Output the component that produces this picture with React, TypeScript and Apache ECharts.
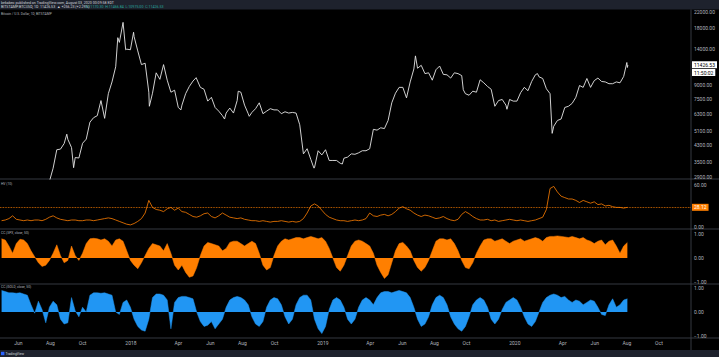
import React, { useEffect, useRef } from 'react';
import * as echarts from 'echarts';

// ---------- data (weekly, starting 2017-04-30) ----------
const START = '2017-04-30';

const priceWeekly = [
  // 2017
  1350, 1580, 1770, 2050, 2200, 2520, 2780, 2610, 2480, 2520, 2500, 1930, 2750, 2750, 3230, 4050, 4080, 4370,
  4600, 4160, 3680, 3660, 4380, 4610, 5680, 6000, 6150, 7400, 5950, 8050, 9300, 11200, 15100, 19300, 13900, 13800,
  // 2018
  16200, 13600, 11500, 11700, 8200, 8100, 10400, 9600, 11500, 9500, 8200, 8400, 6800, 7000, 8050, 8800, 9400, 9650,
  8700, 8500, 7350, 7700, 6800, 6500, 6150, 6350, 6750, 6350, 7400, 8200, 7000, 6300, 6400, 6700, 7200, 6300,
  6500, 6700, 6600, 6600, 6300, 6450, 6350, 6400, 6350, 5500, 3850, 4100, 3600, 3250, 4000, 3800,
  // 2019
  4050, 3550, 3550, 3550, 3430, 3650, 3700, 3850, 3830, 3900, 4000, 4000, 4100, 5200, 5150, 5300, 5250, 5800,
  7200, 8100, 8700, 8700, 7650, 9300, 10900, 11000, 11400, 10300, 10400, 9500, 10800, 11300, 10200, 10150, 9750, 10400,
  10300, 10050, 8050, 7900, 8300, 8200, 9550, 9200, 8800, 8500, 6900, 7400, 7500, 7000, 7500, 7350,
  // 2020
  7350, 8150, 8700, 8350, 9350, 10150, 9900, 9700, 8550, 8050, 5400, 5800, 5900, 6800, 6900, 7150, 7700, 8900,
  8700, 9700, 8700, 9450, 9750, 9350, 9300, 9100, 9100, 9300, 9200, 9950, 11100,
];

const priceExtraDates = [
  '2017-09-01', '2017-09-14', '2017-12-07', '2017-12-22', '2018-01-06', '2018-02-05', '2018-04-06', '2018-05-05',
  '2018-06-28', '2018-07-24', '2018-08-14', '2018-12-15', '2019-02-07', '2019-06-26', '2019-09-25', '2019-12-17',
  '2020-02-13', '2020-03-12', '2020-08-01', '2020-08-03',
];
const priceExtraValues = [
  4900, 3250, 16000, 13800, 17100, 6900, 6600, 9800,
  5900, 8300, 6100, 3230, 3400, 12800, 8450, 6650,
  10300, 4950, 11800, 11426.53,
];

const hvWeekly = [
  9, 10, 12, 16, 11, 10, 9, 10, 9, 10,
  10, 9, 11, 14, 16, 13, 11, 10, 9, 10,
  10, 9, 9, 10, 10, 9, 10, 11, 12, 13,
  12, 10, 8, 6, 4, 3, 5, 8, 12, 20,
  38, 28, 25, 24, 22, 26, 28, 24, 27, 22,
  21, 18, 15, 14, 16, 19, 20, 15, 13, 16,
  20, 17, 14, 13, 12, 13, 11, 10, 9, 9,
  8, 9, 8, 7, 8, 8, 9, 8, 7, 8,
  7, 8, 12, 20, 30, 33, 30, 24, 18, 14,
  12, 10, 9, 9, 8, 9, 10, 9, 10, 12,
  20, 16, 15, 17, 18, 16, 18, 22, 27, 29,
  26, 24, 20, 17, 15, 17, 16, 14, 12, 13,
  15, 12, 10, 9, 11, 18, 22, 19, 15, 12,
  10, 10, 11, 9, 10, 8, 9, 10, 11, 10,
  9, 10, 9, 8, 9, 10, 12, 14, 25, 55,
  58, 50, 44, 42, 40, 40, 38, 35, 38, 36,
  34, 36, 32, 33, 30, 31, 29, 28, 28, 27,
  28.12,
];

const ccOrange = [
  0.8, 0.75, 0.5, 0.2, 0.6, 0.78, 0.75, 0.6, 0.3, 0.05,
  -0.2, -0.35, -0.3, -0.1, 0.2, 0.55, 0.1, -0.2, -0.1, 0.5,
  0.1, -0.1, 0.2, 0.6, 0.8, 0.82, 0.8, 0.75, 0.8, 0.7,
  0.5, 0.75, 0.8, 0.7, 0.3, -0.1, -0.3, -0.45, -0.2, 0.1,
  0.4, 0.6, 0.55, 0.5, 0.3, 0.6, 0.2, -0.3, -0.5, -0.3,
  -0.6, -0.8, -0.75, -0.4, 0.1, 0.5, 0.65, 0.6, 0.55, 0.5,
  0.3, 0.4, 0.65, 0.7, 0.7, 0.6, 0.5, 0.6, 0.7, 0.6,
  0.2, -0.3, -0.5, -0.4, 0.1, 0.5, 0.7, 0.8, 0.75, 0.8,
  0.85, 0.85, 0.8, 0.85, 0.9, 0.85, 0.8, 0.85, 0.7, 0.4,
  0.0, -0.4, -0.55, -0.3, 0.1, 0.5, 0.7, 0.75, 0.7, 0.6,
  0.5, 0.2, -0.3, -0.6, -0.85, -0.7, -0.2, 0.3, 0.6, 0.65,
  0.5, 0.3, -0.1, -0.4, -0.55, -0.4, -0.1, 0.3, 0.7, 0.8,
  0.8, 0.75, 0.8, 0.6, 0.3, -0.1, -0.4, -0.45, -0.2, 0.2,
  0.5, 0.75, 0.8, 0.8, 0.7, 0.75, 0.8, 0.7, 0.6, 0.7,
  0.75, 0.8, 0.7, 0.75, 0.8, 0.85, 0.8, 0.7, 0.85, 0.9,
  0.9, 0.92, 0.9, 0.88, 0.85, 0.9, 0.85, 0.8, 0.85, 0.75,
  0.7, 0.6, 0.7, 0.75, 0.55, 0.7, 0.75, 0.5, 0.2, 0.5,
  0.65,
];

const ccBlue = [
  0.9, 0.85, 0.8, 0.8, 0.78, 0.8, 0.75, 0.7, 0.3, -0.05,
  0.45, 0.1, -0.45, 0.2, 0.45, 0.3, -0.3, -0.5, -0.45, 0.6,
  0.05, -0.2, 0.2, 0.0, 0.7, 0.8, 0.8, 0.78, 0.8, 0.75,
  0.7, 0.0, -0.1, 0.4, 0.5, 0.2, -0.3, -0.6, -0.75, -0.8,
  -0.3, 0.6, 0.75, 0.75, 0.7, 0.5, -0.7, 0.4, 0.6, 0.65,
  0.65, 0.6, 0.55, 0.0, -0.4, -0.6, -0.55, -0.4, -0.7, -0.5,
  -0.3, 0.2, 0.5, 0.6, 0.65, 0.6, 0.5, 0.3, -0.2, -0.5,
  -0.6, -0.4, 0.2, 0.5, 0.6, 0.55, 0.3, -0.2, -0.5, -0.3,
  0.3, 0.6, 0.7, 0.7, 0.5, -0.3, -0.7, -0.9, -0.6, 0.1,
  0.5, 0.6, 0.5, 0.2, -0.3, -0.5, -0.3, 0.2, 0.5, 0.6,
  0.5, 0.3, 0.6, 0.8, 0.85, 0.85, 0.8, 0.85, 0.9, 0.85,
  0.8, 0.6, 0.2, -0.3, -0.6, -0.5, -0.2, 0.3, 0.6, 0.7,
  0.6, 0.3, -0.2, -0.5, -0.7, -0.8, -0.6, -0.2, 0.3, 0.5,
  0.6, 0.5, 0.2, -0.3, -0.5, -0.3, 0.1, 0.4, 0.5, 0.6,
  0.5, 0.2, -0.2, -0.5, -0.6, -0.4, 0.0, 0.4, 0.6, 0.7,
  0.75, 0.7, 0.6, 0.65, 0.5, 0.4, 0.5, 0.45, 0.3, 0.4,
  0.5, 0.45, 0.2, -0.1, -0.15, 0.3, 0.55, 0.2, 0.3, 0.5,
  0.55,
];

const lastPrice = 11426.53;
const lastHv = 28.12;
const countdown = '11:50:02';

const priceTicks = [22000, 18000, 14000, 9000, 7500, 6300, 5100, 4300, 3500, 2900];
const hvTicks = [0, 60];
const ccTicks = [-1, 0, 1];
const monthTicks = [
  '2017-06-01', '2017-08-01', '2017-10-01', '2018-01-01', '2018-04-01', '2018-06-01', '2018-08-01', '2018-10-01',
  '2019-01-01', '2019-04-01', '2019-06-01', '2019-08-01', '2019-10-01', '2020-01-01', '2020-04-01', '2020-06-01',
  '2020-08-01', '2020-10-01',
];
const monthNames = ['Jan', 'Feb', 'Mar', 'Apr', 'May', 'Jun', 'Jul', 'Aug', 'Sep', 'Oct', 'Nov', 'Dec'];

// ---------- helpers ----------
const DAY = 86400000;
const toT = (s: string) => {
  const [y, m, d] = s.split('-').map(Number);
  return Date.UTC(y, m - 1, d);
};
const t0 = toT(START);
const weekT = (i: number) => t0 + i * 7 * DAY;

const FONT = 'Roboto, "Liberation Sans", sans-serif';
const LABEL = '#b2b5be';
const SEP = '#434651';
const ORANGE = '#ff7f00';
const BLUE = '#2196f3';

function buildOption() {
  const priceData: [number, number][] = priceWeekly.map((p, i) => [weekT(i), Math.log10(p)]);
  priceExtraDates.forEach((d, i) => priceData.push([toT(d), Math.log10(priceExtraValues[i])]));
  priceData.sort((a, b) => a[0] - b[0]);

  const hvData = hvWeekly.map((v, i) => [weekT(i), v]);
  const ccOData = ccOrange.map((v, i) => [weekT(i), v]);
  const ccBData = ccBlue.map((v, i) => [weekT(i), v]);

  const tMin = toT('2017-04-27');
  const tMax = toT('2020-12-01');

  const grids = [
    { left: 0, width: 691, top: 10, height: 169 },
    { left: 0, width: 691, top: 179, height: 50 },
    { left: 0, width: 691, top: 229, height: 55 },
    { left: 0, width: 691, top: 284, height: 54 },
  ];

  const xAxes = grids.map((_, i) => ({
    type: 'value',
    gridIndex: i,
    min: tMin,
    max: tMax,
    axisLine: { show: false },
    axisTick: { show: false },
    splitLine: { show: false },
    axisLabel: {
      show: i === 3,
      customValues: monthTicks.map(toT),
      formatter: (v: number) => {
        const d = new Date(v);
        return d.getUTCMonth() === 0 ? String(d.getUTCFullYear()) : monthNames[d.getUTCMonth()];
      },
      color: LABEL,
      fontSize: 5,
      fontFamily: FONT,
      margin: 2.5,
      hideOverlap: false,
    },
  }));

  const yBase = {
    type: 'value',
    position: 'right',
    axisLine: { show: false },
    axisTick: { show: false },
    splitLine: { show: false },
  };
  const fmtSigned = (v: number) => (v < 0 ? '\u2212' + Math.abs(v).toFixed(2) : v.toFixed(2));
  const yLabel = (custom: number[], formatter: (v: number) => string) => ({
    customValues: custom,
    formatter,
    color: LABEL,
    fontSize: 5,
    fontFamily: FONT,
    margin: 3,
    hideOverlap: false,
  });

  const yAxes = [
    {
      ...yBase,
      gridIndex: 0,
      min: 3.4516,
      max: 4.3515,
      axisLabel: yLabel(priceTicks.map((p) => Math.log10(p)), (v: number) => Math.round(Math.pow(10, v)).toFixed(2)),
    },
    { ...yBase, gridIndex: 1, min: -2.857, max: 68.571, axisLabel: yLabel(hvTicks, (v: number) => v.toFixed(2)) },
    { ...yBase, gridIndex: 2, min: -1.0833, max: 1.2083, axisLabel: yLabel(ccTicks, fmtSigned) },
    { ...yBase, gridIndex: 3, min: -1.0833, max: 1.1667, axisLabel: yLabel(ccTicks, fmtSigned) },
  ];

  const series = [
    {
      type: 'line',
      xAxisIndex: 0,
      yAxisIndex: 0,
      data: priceData,
      showSymbol: false,
      symbol: 'none',
      clip: true,
      lineStyle: { color: '#e6e6e6', width: 0.9 },
      silent: true,
      markLine: {
        silent: true,
        symbol: ['none', 'none'],
        lineStyle: { color: 'rgba(0,0,0,0)', width: 0 },
        label: {
          show: true,
          position: 'end',
          distance: 1,
          formatter: () => lastPrice.toFixed(2),
          backgroundColor: '#ffffff',
          color: '#000000',
          fontSize: 5,
          fontFamily: FONT,
          padding: [1, 2, 1, 2],
        },
        data: [{ yAxis: Math.log10(lastPrice) }],
      },
    },
    {
      type: 'line',
      xAxisIndex: 1,
      yAxisIndex: 1,
      data: hvData,
      showSymbol: false,
      symbol: 'none',
      lineStyle: { color: ORANGE, width: 0.8 },
      silent: true,
      markLine: {
        silent: true,
        symbol: ['none', 'none'],
        lineStyle: { color: ORANGE, width: 0.8, type: 'dotted' },
        label: {
          show: true,
          position: 'end',
          distance: 1,
          formatter: () => lastHv.toFixed(2),
          backgroundColor: ORANGE,
          color: '#ffffff',
          fontSize: 5,
          fontFamily: FONT,
          padding: [1, 2, 1, 2],
        },
        data: [{ yAxis: lastHv }],
      },
    },
    {
      type: 'line',
      xAxisIndex: 2,
      yAxisIndex: 2,
      data: ccOData,
      showSymbol: false,
      symbol: 'none',
      lineStyle: { color: ORANGE, width: 0.5 },
      areaStyle: { color: ORANGE, opacity: 1, origin: 0 },
      silent: true,
    },
    {
      type: 'line',
      xAxisIndex: 3,
      yAxisIndex: 3,
      data: ccBData,
      showSymbol: false,
      symbol: 'none',
      lineStyle: { color: BLUE, width: 0.5 },
      areaStyle: { color: BLUE, opacity: 1, origin: 0 },
      silent: true,
    },
  ];

  const txt = (text: string, x: number, y: number, fill: string, size: number) => ({
    type: 'text',
    x,
    y,
    silent: true,
    style: { text, fill, fontSize: size, fontFamily: FONT, verticalAlign: 'middle', align: 'left' },
  });
  const hline = (y: number) => ({
    type: 'line',
    silent: true,
    shape: { x1: 0, y1: y, x2: 719, y2: y },
    style: { stroke: SEP, lineWidth: 0.8 },
  });

  const graphic = [
    { type: 'rect', silent: true, shape: { x: 0, y: 0, width: 719, height: 9.5 }, style: { fill: '#1e222d' } },
    txt('bekabec published on TradingView.com, August 03, 2020 00:09:58 EDT', 1, 2.6, '#d1d4dc', 3.6),
    txt('BITSTAMP:BTCUSD, 1D  11426.53  \u25B2 +256.23 (+2.29%)', 1, 6.6, '#d1d4dc', 3.6),
    txt('O:11170.30  H:11466.84  L:10975.00  C:11426.53', 85, 6.6, '#26a69a', 3.6),
    txt('Bitcoin / U.S. Dollar, 1D, BITSTAMP', 1, 13.5, '#b2b5be', 3.3),
    txt('HV (10)', 1, 184, '#b2b5be', 3.3),
    txt('CC (SPX, close, 50)', 1, 233, '#b2b5be', 3.3),
    txt('CC (GOLD, close, 50)', 1, 287, '#b2b5be', 3.3),
    hline(179),
    hline(229),
    hline(284),
    hline(338),
    {
      type: 'line',
      silent: true,
      shape: { x1: 691, y1: 9.5, x2: 691, y2: 350 },
      style: { stroke: SEP, lineWidth: 0.8 },
    },
    {
      type: 'text',
      x: 692,
      y: 72.5,
      silent: true,
      style: {
        text: countdown,
        fill: '#000',
        fontSize: 5,
        fontFamily: FONT,
        verticalAlign: 'middle',
        backgroundColor: '#fff',
        padding: [1, 2, 1, 2],
      },
    },
    { type: 'rect', silent: true, shape: { x: 0, y: 350, width: 719, height: 7 }, style: { fill: '#1e222d' } },
    { type: 'rect', silent: true, shape: { x: 1, y: 351.8, width: 3.4, height: 3.4 }, style: { fill: '#2962ff' } },
    txt('TradingView', 5.5, 353.6, '#d1d4dc', 3.4),
  ];

  return {
    animation: false,
    backgroundColor: '#000000',
    grid: grids,
    xAxis: xAxes,
    yAxis: yAxes,
    series,
    graphic,
  };
}

export default function App() {
  const ref = useRef<HTMLDivElement>(null);
  useEffect(() => {
    document.body.style.margin = '0';
    const chart = echarts.init(ref.current as HTMLDivElement, null, { renderer: 'svg' });
    chart.setOption(buildOption() as any);
    return () => chart.dispose();
  }, []);
  return <div ref={ref} style={{ width: 719, height: 357, background: '#000' }} />;
}
